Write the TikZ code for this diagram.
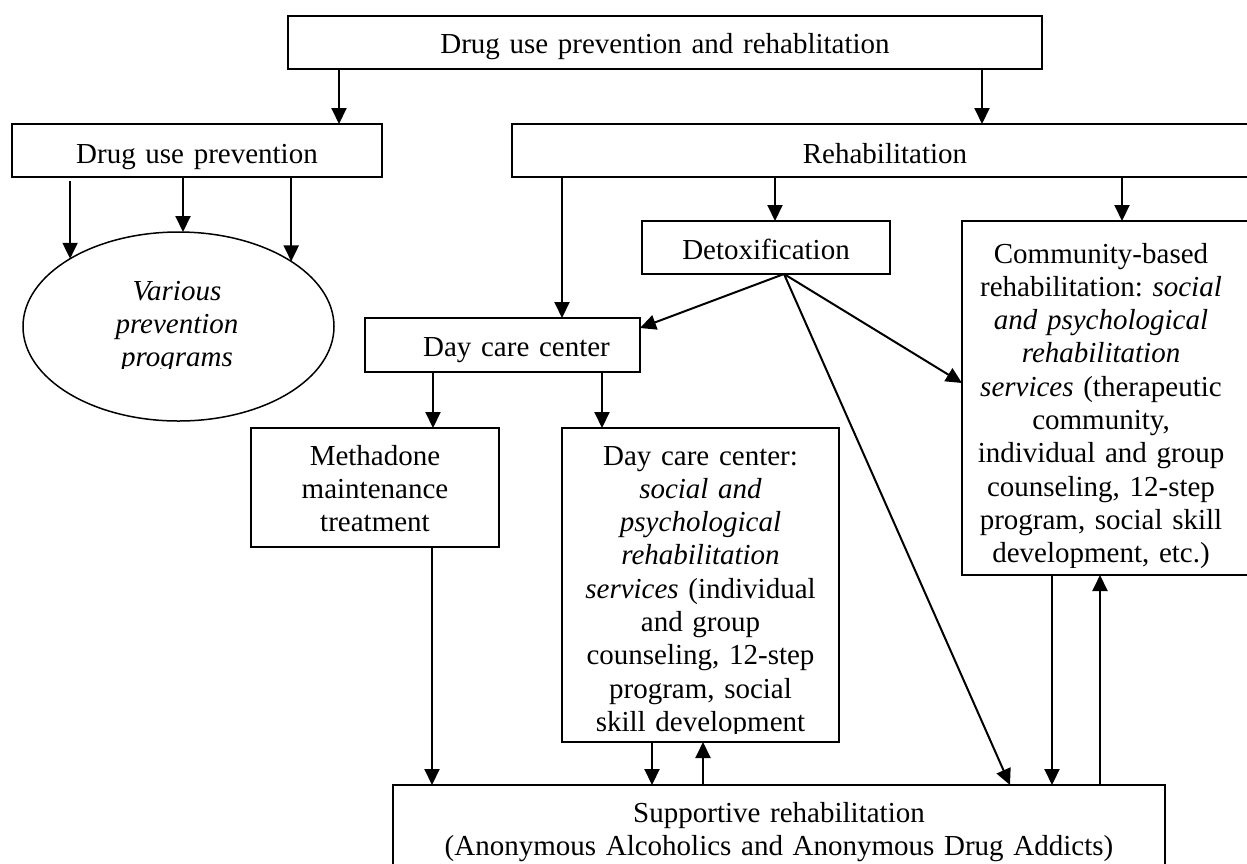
\documentclass[tikz,border=0pt]{standalone}
\usepackage{fontspec}
\setmainfont{Liberation Serif}
\usetikzlibrary{arrows.meta,shapes.geometric,calc}
\frenchspacing

\begin{document}
\begin{tikzpicture}[x=1pt,y=-1pt,
  box/.style={draw, line width=1.9pt, inner sep=0pt, outer sep=0pt},
  txt/.style={font=\fontsize{29}{33.3}\selectfont, inner sep=0pt, outer sep=0pt,
              anchor=base, align=center, text width=720pt},
  arr/.style={-{Triangle[length=16pt,width=15pt]}, line width=2pt}
]
\useasboundingbox (0,0) rectangle (1247,863);
\fill[white] (0,0) rectangle (1247,863);

% boxes
\node[box, minimum width=754pt, minimum height=53pt] (top)   at (665,42.5)  {};
\node[box, minimum width=370pt, minimum height=53pt] (dup)   at (197,150.5) {};
\node[box, minimum width=746pt, minimum height=53pt] (rehab) at (885,150.5) {};
\node[box, minimum width=248pt, minimum height=53pt] (dx)    at (766,247.5) {};
\node[box, minimum width=275pt, minimum height=54pt] (dc)    at (502.5,345) {};
\node[box, minimum width=248pt, minimum height=119pt] (meth) at (375,487.5) {};
\node[box, minimum width=277pt, minimum height=314pt] (dc2)  at (700.5,585) {};
\node[box, minimum width=288pt, minimum height=354pt] (cb)   at (1106,398)  {};
\node[box, minimum width=772pt, minimum height=90pt]  (sup)  at (779,830)   {};
\node[ellipse, draw, line width=1.5pt, inner sep=0pt, outer sep=0pt,
      minimum width=311pt, minimum height=189pt] (prog) at (178.5,326.5) {};

% texts
\node[txt] at (665,53)    {Drug use prevention and rehablitation};
\node[txt] at (197,163)   {Drug use prevention};
\node[txt] at (885,163)   {Rehabilitation};
\node[txt] at (766,259)   {Detoxification};
\node[txt] at (516.5,356) {Day care center};
\node[txt] at (375,465)   {Methadone\\maintenance\\treatment};
\node[txt] at (779,822)   {Supportive rehabilitation\\(Anonymous Alcoholics and Anonymous Drug Addicts)};

\begin{scope}
  \clip (20,230) rectangle (340,368);
  \node[txt] at (177,300) {\itshape Various\\prevention\\programs};
\end{scope}
\begin{scope}
  \clip (dc2.north west) rectangle (839,733);
  \node[txt] at (700.5,465) {Day care center:\\\textit{social and}\\\textit{psychological}\\\textit{rehabilitation}\\\textit{services} (individual\\and group\\counseling, 12-step\\program, social\\skill development};
\end{scope}
\begin{scope}
  \clip (cb.north west) rectangle (1247,567);
  \node[txt] at (1101,263) {Community-based\\rehabilitation: \textit{social}\\\textit{and psychological}\\\textit{rehabilitation}\\\textit{services} (therapeutic\\community,\\individual and group\\counseling, 12-step\\program, social skill\\development, etc.)};
\end{scope}

% connectors
\draw[arr] (top.south -| 339,0) -- (dup.north -| 339,0);
\draw[arr] (top.south -| 982,0) -- (rehab.north -| 982,0);

\draw[arr, shorten <=4pt] (dup.south -| prog.148.5) -- (prog.148.5);
\draw[arr] (dup.south -| 183,0) -- (prog.north -| 183,0);
\draw[arr] (dup.south -| prog.30.6) -- (prog.30.6);

\draw[arr] (rehab.south -| 562,0) -- (dc.north -| 562,0);
\draw[arr] (rehab.south -| 775,0) -- (dx.north -| 775,0);
\draw[arr] (rehab.south -| 1122,0) -- (cb.north -| 1122,0);

\draw[arr] (dx.south -| 784,0) -- ($(dc.north east)+(0,10)$);
\draw[arr] (dx.south -| 784,0) -- ($(cb.north west)+(0,162)$);
\draw[arr] (dx.south -| 784,0) -- (sup.north -| 1010,0);

\draw[arr] (dc.south -| 433,0) -- (meth.north -| 433,0);
\draw[arr] (dc.south -| 602,0) -- (dc2.north -| 602,0);

\draw[arr] (meth.south -| 432,0) -- (sup.north -| 432,0);
\draw[arr] (dc2.south -| 652,0) -- (sup.north -| 652,0);
\draw[arr] (sup.north -| 703,0) -- (dc2.south -| 703,0);
\draw[arr] (cb.south -| 1052,0) -- (sup.north -| 1052,0);
\draw[arr] (sup.north -| 1100,0) -- (cb.south -| 1100,0);
\end{tikzpicture}
\end{document}
